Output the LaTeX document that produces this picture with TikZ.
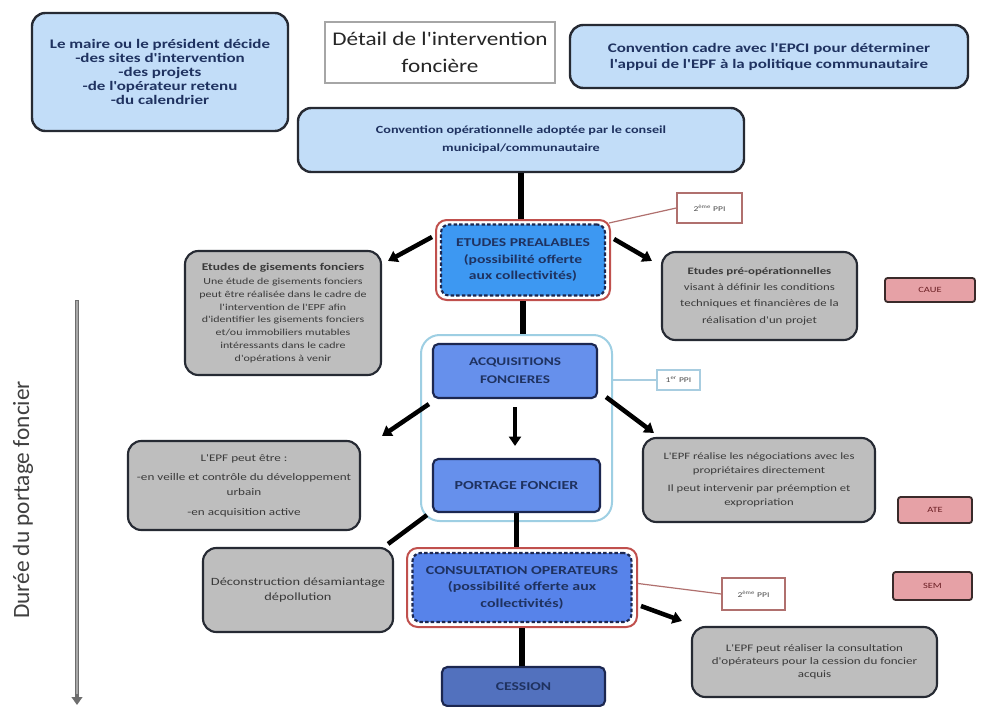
\documentclass[tikz,border=0pt]{standalone}
\usepackage{fontspec}
\setmainfont{Carlito}
\newfontfamily\bx[FakeStretch=1.3]{Carlito}
\newfontfamily\tx[FakeStretch=1.2]{Carlito}
\usetikzlibrary{arrows.meta,calc}
\definecolor{lblue}{HTML}{C2DDF8}
\definecolor{boxedge}{HTML}{262A33}
\definecolor{navy}{HTML}{1F3260}
\definecolor{navyedge}{HTML}{1C2750}
\definecolor{lgray}{HTML}{BEBEBE}
\definecolor{gtext}{HTML}{3A3A3A}
\definecolor{etfill}{HTML}{3D98F2}
\definecolor{acqfill}{HTML}{6690EC}
\definecolor{consfill}{HTML}{5783EA}
\definecolor{cessfill}{HTML}{5271BE}
\definecolor{redline}{HTML}{C0504D}
\definecolor{groupline}{HTML}{9ECFE3}
\definecolor{tagred}{HTML}{E6A1A6}
\definecolor{tagedge}{HTML}{3A2A2A}
\definecolor{tagtext}{HTML}{6B1F24}
\definecolor{ppired}{HTML}{B0706E}
\definecolor{ppiblue}{HTML}{A8CDE0}
\definecolor{axgray}{HTML}{6E6E6E}
\definecolor{axlight}{HTML}{A8A8A8}
\definecolor{axtext}{HTML}{404040}
\tikzset{
 sz/.style 2 args={minimum width=#1*0.75pt, minimum height=#2*0.75pt, inner sep=0pt},
 bluebox/.style={draw=boxedge, line width=1.8pt, fill=lblue, rounded corners=10pt, align=center, text=navy},
 graybox/.style={draw=boxedge, line width=1.6pt, fill=lgray, rounded corners=10pt, align=center, text=gtext},
 stagebox/.style={draw=navyedge, line width=1.6pt, rounded corners=4pt, align=center, text=navy},
 redout/.style={draw=redline, line width=1.5pt, rounded corners=8pt, fill=white},
 dashin/.style={draw=navyedge, line width=1.6pt, dash pattern=on 2.6pt off 1.6pt, rounded corners=6pt, align=center, text=navy},
 tagbox/.style={draw=tagedge, line width=1.4pt, fill=tagred, rounded corners=2pt, text=tagtext, font=\bx\fontsize{6}{7}\selectfont},
 ppibox/.style={draw=#1, line width=1pt, fill=white, text=gray!60!black, font=\bx\fontsize{5.5}{6}\selectfont},
 conn/.style={line width=4.2pt, black},
 arr/.style={line width=3.4pt, black, -{Triangle[length=7pt,width=9pt]}},
}
\begin{document}
\begin{tikzpicture}[x=0.75pt,y=-0.75pt]
\useasboundingbox (0,0) rectangle (986,707);
\fill[white] (0,0) rectangle (986,707);

% group outline (1er PPI)
\node[draw=groupline, line width=1.5pt, rounded corners=14pt, sz={191}{186}] (grp) at (516.5,428) {};

% top boxes
\node[bluebox, sz={256}{118}, font=\bx\bfseries\fontsize{9.8}{10.6}\selectfont] (maire) at (160,72)
 {Le maire ou le président décide\\-des sites d'intervention\\-des projets\\-de l'opérateur retenu\\-du calendrier};
\node[draw=gray!70, line width=0.8pt, fill=white, sz={230}{61}, align=center, text=black!85, font=\tx\fontsize{14.5}{20}\selectfont] (title) at (440,52.5)
 {Détail de l'intervention\\foncière};
\node[bluebox, sz={398}{63}, font=\bx\bfseries\fontsize{9.8}{12}\selectfont] (cadre) at (769,56.5)
 {Convention cadre avec l'EPCI pour déterminer\\l'appui de l'EPF à la politique communautaire};
\node[bluebox, sz={446}{64}, font=\bx\bfseries\fontsize{8.2}{13.5}\selectfont] (convop) at (521,140)
 {Convention opérationnelle adoptée par le conseil\\municipal/communautaire};

% etudes prealables
\node[redout, sz={174}{80}] (etudesO) at (523,260) {};
\node[dashin, fill=etfill, sz={164}{71}, font=\bx\bfseries\fontsize{9}{12.2}\selectfont] (etudes) at (523,260)
 {ETUDES PREALABLES\\(possibilité offerte\\aux collectivités)};
\node[ppibox=ppired, sz={65}{30}] (ppiA) at (709.5,208) {2\textsuperscript{ème} PPI};

\node[graybox, sz={196}{124}, font=\bx\fontsize{6.9}{9.6}\selectfont] (gL1) at (283,313)
 {{\bfseries\fontsize{7.8}{10}\selectfont Etudes de gisements fonciers}\\[1pt]
  Une étude de gisements fonciers\\peut être réalisée dans le cadre de\\l'intervention de l'EPF afin\\d'identifier les gisements fonciers\\et/ou immobiliers mutables\\intéressants dans le cadre\\d'opérations à venir};
\node[graybox, sz={195}{88}, font=\bx\fontsize{7.4}{12.3}\selectfont] (gR1) at (759.5,296)
 {{\bfseries Etudes pré-opérationnelles}\\visant à définir les conditions\\techniques et financières de la\\réalisation d'un projet};
\node[tagbox, sz={90}{24}] (caue) at (930,290) {CAUE};

% acquisitions / portage
\node[stagebox, fill=acqfill, sz={164}{54}, font=\bx\bfseries\fontsize{8.8}{13.5}\selectfont] (acq) at (515,371)
 {ACQUISITIONS\\FONCIERES};
\node[ppibox=ppiblue, sz={43}{20}] (ppiB) at (678.5,380) {1\textsuperscript{er} PPI};
\node[stagebox, fill=acqfill, sz={167}{53}, font=\bx\bfseries\fontsize{9.2}{11}\selectfont] (portage) at (516.5,485.5)
 {PORTAGE FONCIER};
\node[graybox, sz={232}{89}, font=\bx\fontsize{7.6}{11.5}\selectfont] (gL2) at (244,485.5)
 {L'EPF peut être :\\[3pt]-en veille et contrôle du développement\\urbain\\[3pt]-en acquisition active};
\node[graybox, sz={232}{84}, font=\bx\fontsize{7.3}{10}\selectfont] (gR2) at (759,480)
 {L'EPF réalise les négociations avec les\\propriétaires directement\\[4pt]Il peut intervenir par préemption et\\expropriation};
\node[tagbox, sz={74}{26}] (afr) at (935,510) {ATE};

% consultation operateurs
\node[redout, sz={230}{79}] (consO) at (522,587.5) {};
\node[dashin, fill=consfill, sz={219}{69}, font=\bx\bfseries\fontsize{9.2}{12.4}\selectfont] (cons) at (522,587.5)
 {CONSULTATION OPERATEURS\\(possibilité offerte aux\\collectivités)};
\node[ppibox=ppired, sz={63}{32}] (ppiC) at (753.5,594) {2\textsuperscript{ème} PPI};
\node[graybox, sz={190}{84}, font=\bx\fontsize{8.3}{11.2}\selectfont] (gL3) at (298,590)
 {Déconstruction désamiantage\\dépollution};
\node[tagbox, sz={79}{28}] (sem) at (932.5,586) {SEM};
\node[graybox, sz={245}{70}, font=\bx\fontsize{7.5}{9.6}\selectfont] (gR3) at (814.5,662)
 {L'EPF peut réaliser la consultation\\d'opérateurs pour la cession du foncier\\acquis};

\node[stagebox, fill=cessfill, sz={163}{39}, font=\bx\bfseries\fontsize{9}{11}\selectfont] (cession) at (523.5,686.5)
 {CESSION};

% vertical connectors
\draw[conn] (convop.south) -- (convop.south |- etudesO.north);
\draw[conn] (etudesO.south) -- (etudesO.south |- grp.north);
\draw[conn] (portage.south) -- (portage.south |- consO.north);
\draw[conn] (consO.south) -- (consO.south |- cession.north);
\draw[arr, shorten <=6pt, shorten >=9pt] (acq.south) -- (acq.south |- portage.north);

% side arrows
\coordinate (eL) at ($(etudesO.north west)+(-3,18)$);
\coordinate (t1) at ($(gL1.north east)+(6,11)$);
\draw[arr] (eL) -- (t1);
\coordinate (eR) at ($(etudesO.north east)+(3,20)$);
\coordinate (t2) at ($(gR1.north west)+(-9,10)$);
\draw[arr] (eR) -- (t2);
\coordinate (aL) at ($(acq.south west)+(-3,5)$);
\coordinate (t3) at ($(gL2.north east)+(21,-4)$);
\draw[arr] (aL) -- (t3);
\coordinate (aR) at ($(acq.south east)+(8,-2)$);
\coordinate (t4) at ($(gR2.north west)+(12,-4)$);
\draw[arr] (aR) -- (t4);
\coordinate (pL) at ($(portage.south west)+(-5,2)$);
\coordinate (t5) at ($(gL3.north east)+(-6,-3)$);
\draw[line width=3.4pt, black] (pL) -- (t5);
\coordinate (cR) at ($(consO.south east)+(3,-22)$);
\coordinate (t6) at ($(gR3.north west)+(-9,-5)$);
\draw[arr] (cR) -- (t6);

% PPI leaders
\draw[ppired, line width=0.9pt] ($(etudesO.north east)+(-2,4)$) -- (ppiA.west);
\draw[ppiblue, line width=0.9pt] (grp.east |- ppiB.west) -- (ppiB.west);
\draw[ppired, line width=0.9pt] ($(consO.east)+(0,-4)$) -- (ppiC.west);

% time axis
\coordinate (axT) at (77,300);
\coordinate (axB) at (77,705);
\draw[line width=3pt, draw=axgray, -{Triangle[length=6pt,width=8pt]}] (axT) -- (axB);
\draw[line width=1pt, draw=axlight, shorten >=8pt, shorten <=1pt] (axT) -- (axB);
\node[rotate=90, font=\fontsize{17.5}{19}\selectfont, text=axtext] (axlab) at (23,500) {Durée du portage foncier};
\end{tikzpicture}
\end{document}
